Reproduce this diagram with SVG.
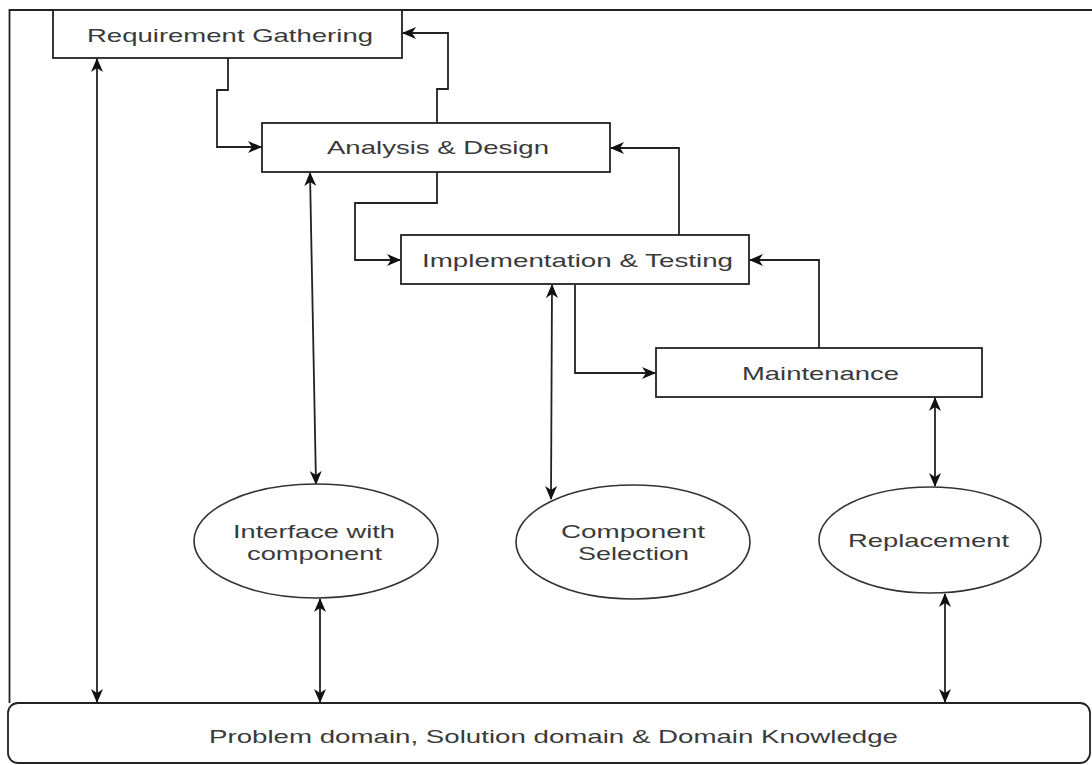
<svg xmlns="http://www.w3.org/2000/svg" width="1092" height="765" viewBox="0 0 1092 765">
<style>
.box{fill:#fff;stroke:#222;stroke-width:1.8}
.ell{fill:#fff;stroke:#333;stroke-width:1.6}
.lbl{font-family:"Liberation Sans",Arial,sans-serif;font-size:19px;fill:#3a3a3a}
.con{fill:none;stroke:#222;stroke-width:1.8}
.one{marker-end:url(#ah)}
.two{marker-start:url(#ah);marker-end:url(#ah)}
</style>
<defs>
<marker id="ah" viewBox="0 0 14 12" refX="13" refY="6" markerWidth="14" markerHeight="12" markerUnits="userSpaceOnUse" orient="auto-start-reverse">
<path d="M0,0 L14,6 L0,12 L4,6 Z" fill="#111"/>
</marker>
</defs>
<rect width="1092" height="765" fill="#fff"/>
<g id="frame">
<path d="M9.5,703 V10 H1092" fill="none" stroke="#222" stroke-width="1.8"/>
</g>
<g id="connectors">
<path class="con one" d="M228,58 V90 H217 V147 H261"/>
<path class="con one" d="M437,123 V89 H448 V33 H403"/>
<path class="con one" d="M437,172 V203 H355 V260 H400"/>
<path class="con one" d="M679,235 V148 H611"/>
<path class="con one" d="M575,285 V373 H655"/>
<path class="con one" d="M819,348 V260 H750"/>
<path class="con two" d="M97,59 V702"/>
<path class="con two" d="M310,173 L316,484"/>
<path class="con two" d="M552,285 L551,499"/>
<path class="con two" d="M935,398 V486"/>
<path class="con two" d="M320,599 V702"/>
<path class="con two" d="M945,594 V702"/>
</g>
<g id="requirement-gathering">
<rect class="box" x="53" y="10" width="349" height="48"/>
<text class="lbl" x="87" y="42" textLength="286" lengthAdjust="spacingAndGlyphs">Requirement Gathering</text>
</g>
<g id="analysis-design">
<rect class="box" x="262" y="123" width="348" height="49"/>
<text class="lbl" x="327" y="154" textLength="222" lengthAdjust="spacingAndGlyphs">Analysis &amp; Design</text>
</g>
<g id="implementation-testing">
<rect class="box" x="401" y="235" width="348" height="49"/>
<text class="lbl" x="422" y="267" textLength="311" lengthAdjust="spacingAndGlyphs">Implementation &amp; Testing</text>
</g>
<g id="maintenance">
<rect class="box" x="656" y="348" width="326" height="49"/>
<text class="lbl" x="742" y="380" textLength="157" lengthAdjust="spacingAndGlyphs">Maintenance</text>
</g>
<g id="interface-with-component">
<ellipse class="ell" cx="316" cy="541" rx="122" ry="57"/>
<text class="lbl" x="233" y="538" textLength="162" lengthAdjust="spacingAndGlyphs">Interface with</text>
<text class="lbl" x="247" y="560" textLength="135" lengthAdjust="spacingAndGlyphs">component</text>
</g>
<g id="component-selection">
<ellipse class="ell" cx="633" cy="542" rx="117" ry="57"/>
<text class="lbl" x="561" y="538" textLength="144" lengthAdjust="spacingAndGlyphs">Component</text>
<text class="lbl" x="578" y="560" textLength="111" lengthAdjust="spacingAndGlyphs">Selection</text>
</g>
<g id="replacement">
<ellipse class="ell" cx="930" cy="540" rx="111" ry="53"/>
<text class="lbl" x="848" y="547" textLength="161" lengthAdjust="spacingAndGlyphs">Replacement</text>
</g>
<g id="domain-knowledge">
<rect class="box" x="8" y="703" width="1082" height="60" rx="10"/>
<text class="lbl" x="209" y="743" font-size="18" textLength="689" lengthAdjust="spacingAndGlyphs">Problem domain, Solution domain &amp; Domain Knowledge</text>
</g>
</svg>
